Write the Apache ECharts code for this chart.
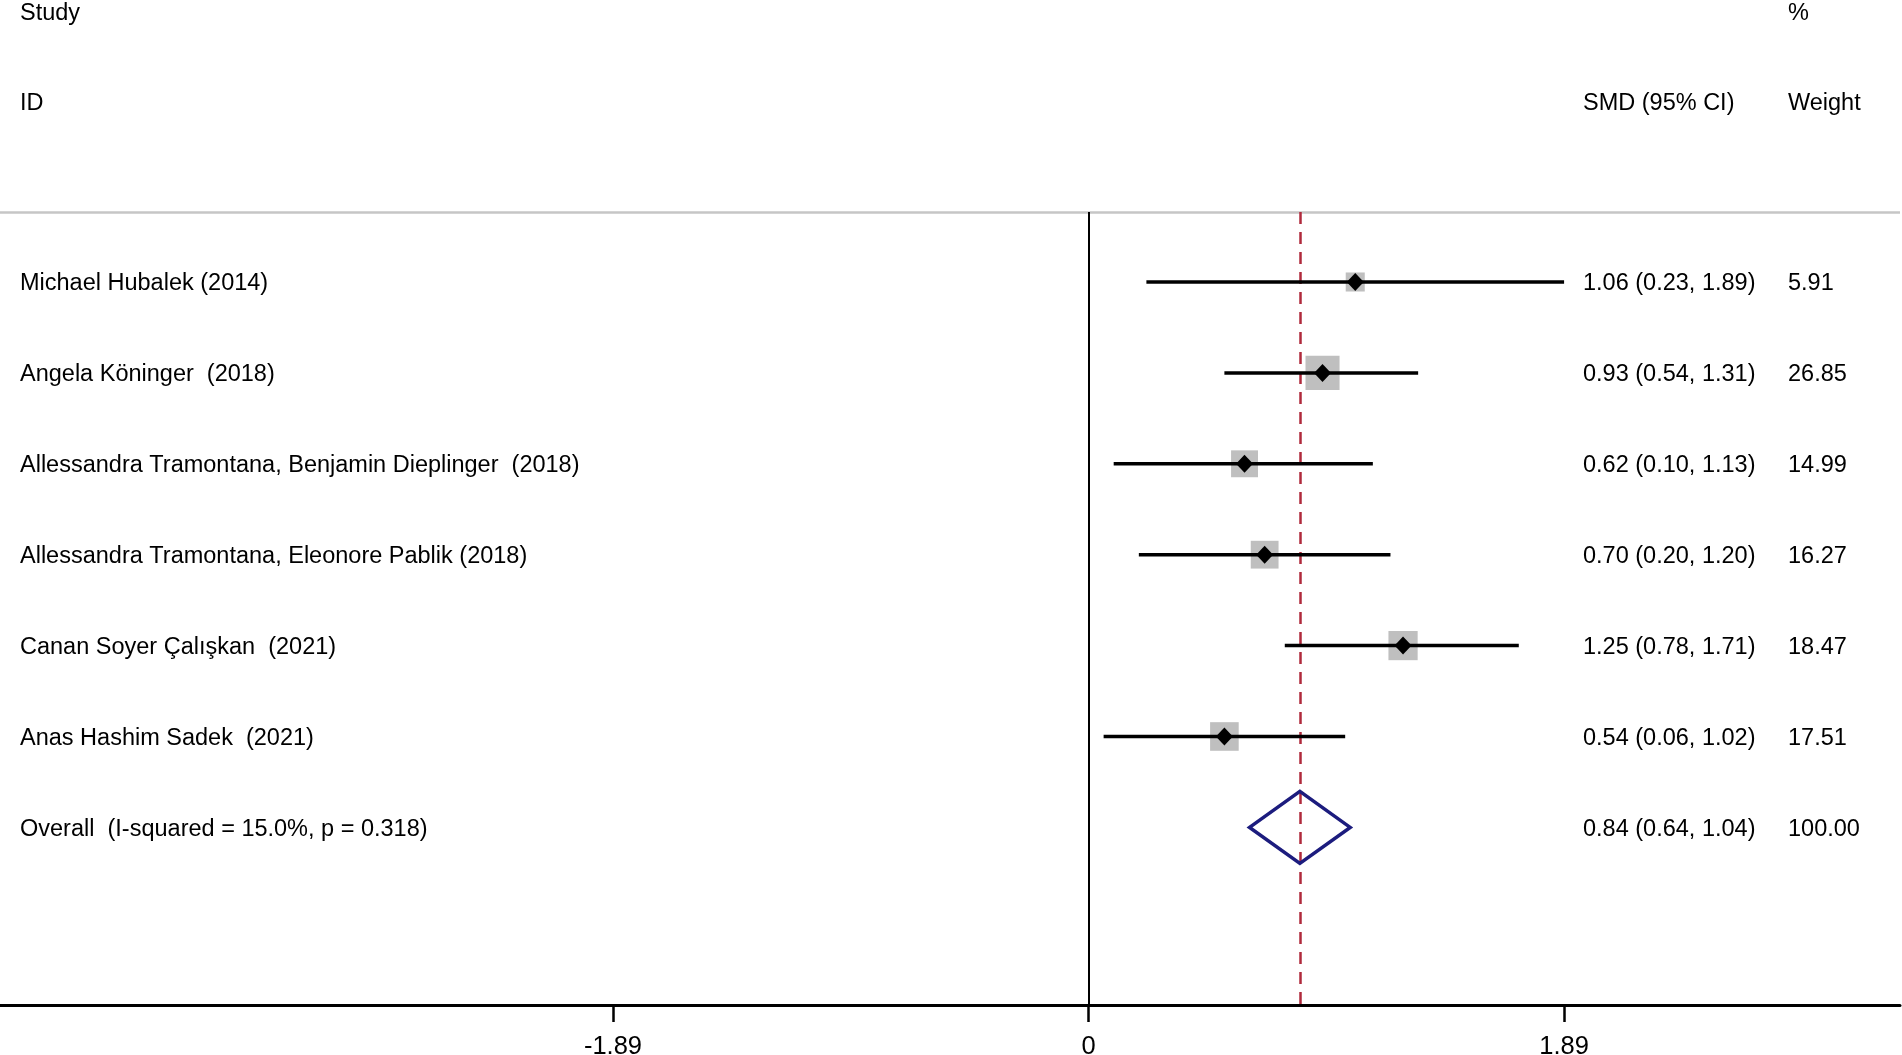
<!DOCTYPE html>
<html lang="en">
<head>
<meta charset="UTF-8">
<title>Forest plot - SMD</title>
<script src="https://cdn.jsdelivr.net/npm/echarts@6/dist/echarts.min.js"></script>
<style>
  html, body { margin: 0; padding: 0; background: #fff; }
  #chart { width: 1902px; height: 1055px; }
</style>
</head>
<body>
<div id="chart"></div>
<script>
// study data
var studies = [
  'Michael Hubalek (2014)',
  'Angela Köninger  (2018)',
  'Allessandra Tramontana, Benjamin Dieplinger  (2018)',
  'Allessandra Tramontana, Eleonore Pablik (2018)',
  'Canan Soyer Çalışkan  (2021)',
  'Anas Hashim Sadek  (2021)'
];
var smd    = [1.06, 0.93, 0.62, 0.70, 1.25, 0.54];
var lower  = [0.23, 0.54, 0.10, 0.20, 0.78, 0.06];
var upper  = [1.89, 1.31, 1.13, 1.20, 1.71, 1.02];
var weight = ['5.91', '26.85', '14.99', '16.27', '18.47', '17.51'];

var overallLabel  = 'Overall  (I-squared = 15.0%, p = 0.318)';
var overallEst    = 0.84;
var overallLower  = 0.64;
var overallUpper  = 1.04;
var overallWeight = '100.00';

var xTicks = [-1.89, 0, 1.89];

var FONT = '23.5px "Liberation Sans", Arial, Helvetica, sans-serif';
var TXT_ID = 20, TXT_CI = 1583, TXT_W = 1788;
var yMin = 0.23, yMax = 8.954;

var chart = echarts.init(document.getElementById('chart'));

// rows: 1..6 studies, 7 overall
var rows = [];
for (var i = 0; i < studies.length; i++) {
  rows.push({
    row: i + 1, name: studies[i], est: smd[i], lo: lower[i], hi: upper[i],
    w: weight[i], overall: false
  });
}
rows.push({
  row: studies.length + 1, name: overallLabel, est: overallEst,
  lo: overallLower, hi: overallUpper, w: overallWeight, overall: true
});

function ciText(r) {
  return r.est.toFixed(2) + ' (' + r.lo.toFixed(2) + ', ' + r.hi.toFixed(2) + ')';
}

function txt(x, y, s) {
  return {
    type: 'text',
    style: { text: s, x: x, y: y, font: FONT, fill: '#000', align: 'left', verticalAlign: 'middle' }
  };
}

function renderRow(params, api) {
  var r = rows[params.dataIndex];
  var c = api.coord([r.est, r.row]);
  var pl = api.coord([r.lo, r.row]);
  var ph = api.coord([r.hi, r.row]);
  var y = c[1];
  var kids = [];
  if (r.overall) {
    var h = 36;
    kids.push({
      type: 'polygon',
      shape: { points: [[pl[0], y], [c[0], y - h], [ph[0], y], [c[0], y + h]] },
      style: { fill: null, stroke: '#1c1c7e', lineWidth: 3.5, lineJoin: 'miter' }
    });
  } else {
    // box area grows with weight
    var s = 5.8 + 5.45 * Math.sqrt(parseFloat(r.w));
    kids.push({
      type: 'rect',
      shape: { x: c[0] - s / 2, y: y - s / 2, width: s, height: s },
      style: { fill: '#bfbfbf' }
    });
    kids.push({
      type: 'line',
      shape: { x1: pl[0], y1: y, x2: ph[0], y2: y },
      style: { stroke: '#000', lineWidth: 3.5 }
    });
    kids.push({
      type: 'polygon',
      shape: { points: [[c[0], y - 9], [c[0] + 8.5, y], [c[0], y + 9], [c[0] - 8.5, y]] },
      style: { fill: '#000' }
    });
  }
  kids.push(txt(TXT_ID, y + 2, r.name));
  kids.push(txt(TXT_CI, y + 2, ciText(r)));
  kids.push(txt(TXT_W, y + 2, r.w));
  return { type: 'group', children: kids };
}

var option = {
  animation: false,
  backgroundColor: '#fff',
  grid: { left: 0, right: 2, top: 212, bottom: 50, containLabel: false, outerBoundsMode: 'none' },
  xAxis: {
    type: 'value',
    min: -4.326,
    max: 3.225,
    axisLine: { show: true, onZero: false, lineStyle: { color: '#000', width: 3 } },
    axisTick: { show: true, customValues: xTicks, length: 17, lineStyle: { color: '#000', width: 2.5 } },
    axisLabel: {
      show: true, customValues: xTicks, margin: 29, color: '#000',
      fontSize: 25.5, fontFamily: '"Liberation Sans", Arial, sans-serif',
      formatter: function (v) { return v === 0 ? '0' : v.toFixed(2); }
    },
    splitLine: { show: false }
  },
  yAxis: {
    type: 'value', inverse: true, min: yMin, max: yMax,
    show: false
  },
  graphic: [
    txt(TXT_ID, 14, 'Study'),
    txt(TXT_ID, 104, 'ID'),
    txt(TXT_W, 14, '%'),
    txt(TXT_CI, 104, 'SMD (95% CI)'),
    txt(TXT_W, 104, 'Weight')
  ],
  series: [
    {
      type: 'line', data: [], silent: true,
      markLine: {
        silent: true, symbol: 'none', label: { show: false },
        data: [
          { yAxis: yMin, lineStyle: { color: '#c6c6c6', width: 2.5, type: 'solid' } },
          { xAxis: 0, lineStyle: { color: '#000', width: 2, type: 'solid' } },
          { xAxis: overallEst, lineStyle: { color: '#b02a3c', width: 2.5, type: [12, 8] } }
        ]
      }
    },
    {
      type: 'custom',
      clip: false,
      silent: true,
      data: rows.map(function (r) { return [r.est, r.row]; }),
      renderItem: renderRow,
      z: 5
    }
  ]
};

chart.setOption(option);
</script>
</body>
</html>
